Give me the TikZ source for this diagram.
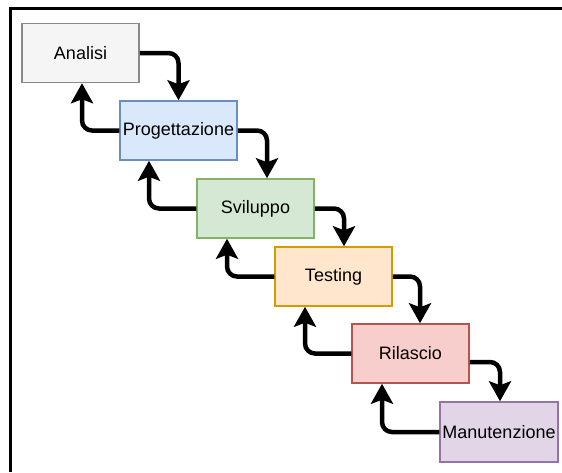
\documentclass[tikz,border=0pt]{standalone}
\usepackage{fontspec}
\setmainfont{Liberation Sans}
\usetikzlibrary{arrows.meta}

\definecolor{grayfill}{HTML}{F5F5F5}\definecolor{grayline}{HTML}{8A8A8A}
\definecolor{bluefill}{HTML}{DAE8FC}\definecolor{blueline}{HTML}{6C8EBF}
\definecolor{greenfill}{HTML}{D5E8D4}\definecolor{greenline}{HTML}{82B366}
\definecolor{orangefill}{HTML}{FFE6CC}\definecolor{orangeline}{HTML}{D79B00}
\definecolor{redfill}{HTML}{F8CECC}\definecolor{redline}{HTML}{B85450}
\definecolor{purplefill}{HTML}{E1D5E7}\definecolor{purpleline}{HTML}{9673A6}

\tikzset{
  phase/.style={rectangle, line width=1.5pt, minimum width=117pt, minimum height=59pt,
    inner sep=0pt, font=\fontsize{18}{21}\selectfont, text=black},
  flow/.style={line width=4.5pt, rounded corners=10pt,
    -{Stealth[length=20pt 0 0,width=22pt 0 0,inset=4pt 0]}},
  frame/.style={line width=3pt, black}
}

\begin{document}
\begin{tikzpicture}[x=1pt, y=-1pt]
  \fill[white] (0,0) rectangle (562,472);
  \useasboundingbox (0,0) rectangle (562,472);

  % outer frame (top and left edges)
  \draw[frame] (562,8) -- (10,8) -- (10,472);

  % phases of the waterfall model
  \node[phase, fill=grayfill,   draw=grayline]   (A) at (80.5,53)    {Analisi};
  \node[phase, fill=bluefill,   draw=blueline]   (P) at (178.5,130.5) {Progettazione};
  \node[phase, fill=greenfill,  draw=greenline]  (S) at (255.5,208.5) {Sviluppo};
  \node[phase, fill=orangefill, draw=orangeline] (T) at (333.5,276.5) {Testing};
  \node[phase, fill=redfill,    draw=redline]    (R) at (410.5,353.5) {Rilascio};
  \node[phase, fill=purplefill, draw=purpleline, minimum width=118pt, minimum height=60pt]
        (M) at (499,432) {Manutenzione};

  % forward transitions
  \draw[flow] (A.east) -| (P.north);
  \draw[flow] (P.east) -| ([xshift=11.5pt]S.north);
  \draw[flow] (S.east) -| ([xshift=10.5pt]T.north);
  \draw[flow] (T.east) -| ([xshift=9.5pt]R.north);
  \draw[flow] ([yshift=-8.5pt]R.east) -| ([xshift=1pt]M.north);

  % feedback transitions
  \draw[flow] (P.west) -| ([xshift=1.5pt]A.south);
  \draw[flow] (S.west) -| ([xshift=-29.5pt]P.south);
  \draw[flow] (T.west) -| ([xshift=-28.5pt]S.south);
  \draw[flow] (R.west) -| ([xshift=-28.5pt]T.south);
  \draw[flow] (M.west) -| ([xshift=-28.5pt]R.south);
\end{tikzpicture}
\end{document}
